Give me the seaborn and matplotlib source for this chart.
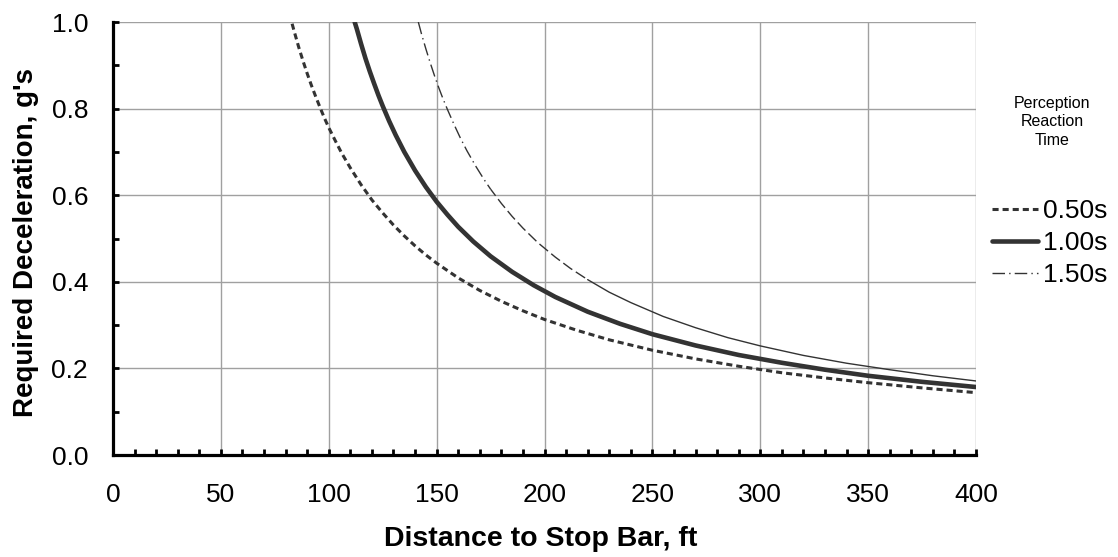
import matplotlib
matplotlib.use("Agg")
import matplotlib.pyplot as plt
from matplotlib.lines import Line2D
from matplotlib.ticker import MultipleLocator
import seaborn as sns
import pandas as pd

# ---- data ----
dist_050 = [83, 84, 86, 88, 90, 92, 94, 96, 98, 100, 103, 106, 110, 115, 120, 125, 130, 135, 140, 145, 150,
            160, 170, 180, 190, 200, 215, 230, 250, 270, 290, 310, 330, 350, 375, 400]
decel_050 = [0.996, 0.978, 0.943, 0.911, 0.881, 0.853, 0.827, 0.802, 0.778, 0.756, 0.726, 0.697, 0.663,
             0.624, 0.589, 0.559, 0.531, 0.506, 0.483, 0.462, 0.443, 0.409, 0.380, 0.355, 0.333, 0.313,
             0.288, 0.266, 0.242, 0.222, 0.205, 0.190, 0.178, 0.167, 0.155, 0.144]

dist_100 = [112, 113, 115, 117, 119, 121, 123, 125, 128, 131, 135, 140, 145, 150, 155, 160, 167, 175, 185,
            195, 205, 220, 235, 250, 270, 290, 310, 330, 350, 375, 400]
decel_100 = [1.000, 0.984, 0.949, 0.916, 0.886, 0.858, 0.831, 0.806, 0.771, 0.739, 0.700, 0.657, 0.619,
             0.585, 0.555, 0.527, 0.493, 0.459, 0.423, 0.392, 0.365, 0.331, 0.303, 0.279, 0.253, 0.231,
             0.213, 0.197, 0.183, 0.169, 0.157]

dist_150 = [141.5, 143, 145, 147, 149, 151, 153, 155, 158, 161, 164, 168, 172, 175, 180, 185, 190, 197, 205,
            212, 220, 230, 240, 255, 270, 285, 300, 320, 340, 360, 380, 400]
decel_150 = [1.000, 0.972, 0.938, 0.906, 0.876, 0.848, 0.822, 0.798, 0.764, 0.732, 0.703, 0.668, 0.636,
             0.614, 0.581, 0.551, 0.524, 0.490, 0.457, 0.431, 0.405, 0.376, 0.352, 0.320, 0.294, 0.271,
             0.252, 0.230, 0.212, 0.197, 0.183, 0.171]

labels = ["0.50s", "1.00s", "1.50s"]
xlabel = "Distance to Stop Bar, ft"
ylabel = "Required Deceleration, g's"
legend_title = "Perception\nReaction\nTime"

# ---- style ----
sns.set_theme(style="white")
plt.rcParams["font.family"] = ["Liberation Sans", "DejaVu Sans"]

fig = plt.figure(figsize=(11.18, 5.57), dpi=100)
ax = fig.add_axes([0.1011, 0.1831, 0.873 - 0.1011, 0.9605 - 0.1831])

line_col = "#333333"
dash_050 = (0, (2.0, 1.3))
dashdot_150 = (0, (9, 3, 1, 3))

df050 = pd.DataFrame({"x": dist_050, "y": decel_050})
df100 = pd.DataFrame({"x": dist_100, "y": decel_100})
df150 = pd.DataFrame({"x": dist_150, "y": decel_150})

sns.lineplot(data=df050, x="x", y="y", ax=ax, color=line_col, lw=2.2,
             linestyle=dash_050, zorder=3)
sns.lineplot(data=df100, x="x", y="y", ax=ax, color=line_col, lw=3.3, zorder=3)
seg1 = df150[df150["x"] <= 175]
seg2 = df150[(df150["x"] >= 175) & (df150["x"] <= 220)]
seg3 = df150[df150["x"] >= 220]
sns.lineplot(data=seg1, x="x", y="y", ax=ax, color=line_col, lw=1.0,
             linestyle=dashdot_150, zorder=3)
sns.lineplot(data=seg2, x="x", y="y", ax=ax, color=line_col, lw=1.0,
             linestyle=(2, (8, 3)), zorder=3)
sns.lineplot(data=seg3, x="x", y="y", ax=ax, color=line_col, lw=1.0, zorder=3)

ax.set_xlim(0, 400)
ax.set_ylim(0, 1.0)
ax.xaxis.set_major_locator(MultipleLocator(50))
ax.xaxis.set_minor_locator(MultipleLocator(10))
ax.yaxis.set_major_locator(MultipleLocator(0.2))
ax.yaxis.set_minor_locator(MultipleLocator(0.1))
ax.yaxis.set_major_formatter(plt.FuncFormatter(lambda v, p: f"{v:.1f}"))

ax.grid(True, which="major", color="#a0a0a0", lw=1.0)
ax.set_axisbelow(True)
for s in ["top", "right"]:
    ax.spines[s].set_visible(False)
for s in ["left", "bottom"]:
    ax.spines[s].set_color("black")
    ax.spines[s].set_linewidth(2.3)
    ax.spines[s].set_zorder(4)

ax.tick_params(which="both", direction="in", length=4, width=2, color="black",
               bottom=True, left=True, top=False, right=False)
ax.tick_params(axis="both", which="major", labelsize=19, labelcolor="black")
ax.tick_params(axis="x", which="major", pad=20)
ax.tick_params(axis="y", which="major", pad=18)

ax.set_xlabel(xlabel, fontsize=20.5, fontweight="bold", color="black")
ax.set_ylabel(ylabel, fontsize=20, fontweight="bold", color="black")
ax.xaxis.set_label_coords(0.496, -0.163)
ax.yaxis.set_label_coords(-0.086, 0.49)

handles = [
    Line2D([], [], color=line_col, lw=2.2, linestyle=dash_050),
    Line2D([], [], color=line_col, lw=3.3),
    Line2D([], [], color=line_col, lw=1.0, linestyle=dashdot_150),
]
fig.legend(handles, labels, loc="center left", bbox_to_anchor=(0.8873, 0.5637),
           frameon=False, fontsize=19, handlelength=1.75, handletextpad=0.2,
           labelspacing=0.3, borderaxespad=0, borderpad=0, labelcolor="black")
fig.text(0.941, 0.781, legend_title, ha="center", va="center", fontsize=11.5,
         linespacing=1.3, color="black")

fig.savefig("out.png", dpi=100)
